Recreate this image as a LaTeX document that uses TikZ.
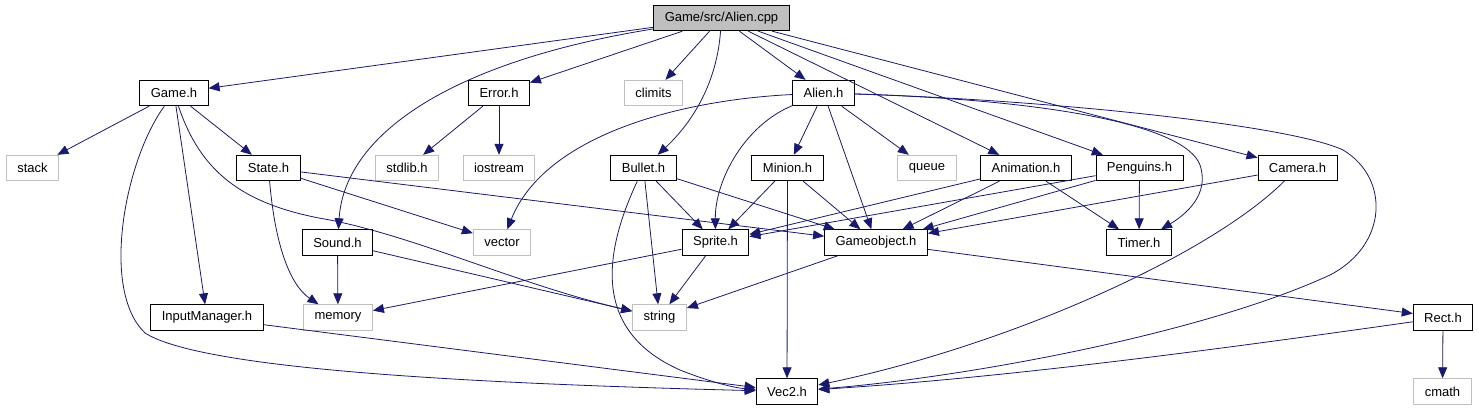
\documentclass[tikz,border=0pt]{standalone}
\usepackage{fontspec}
\setmainfont{Liberation Sans}
\usepackage{tikz}
\usetikzlibrary{arrows.meta}
\definecolor{Edge}{HTML}{191970}
\definecolor{LGray}{HTML}{BFBFBF}

\begin{document}
\begin{tikzpicture}[x=1pt, y=-1pt,
  hdr/.style={draw=black, line width=0.9pt, fill=white, minimum height=25.5pt,
    inner xsep=11pt, inner ysep=0pt, font=\fontsize{13}{15}\selectfont},
  sys/.style={hdr, draw=LGray},
  srcfile/.style={hdr, fill=LGray},
  inc/.style={-{Triangle[length=11pt, width=9pt]}, draw=Edge, line width=0.8pt}]
  \useasboundingbox (0,0) rectangle (1479,411);
  % Files
  \node[srcfile] (cpp) at (721.5,18) {Game/src/Alien.cpp};
  \node[hdr] (gameh) at (174,93) {Game.h};
  \node[hdr] (errorh) at (499,93) {Error.h};
  \node[sys] (climits) at (653.5,93) {climits};
  \node[hdr] (alienh) at (823.5,93) {Alien.h};
  \node[sys] (stack) at (32.5,168) {stack};
  \node[hdr] (stateh) at (268.5,168) {State.h};
  \node[sys] (stdlib) at (407,168) {stdlib.h};
  \node[sys] (iostream) at (499,168) {iostream};
  \node[hdr] (bulleth) at (643.5,168) {Bullet.h};
  \node[hdr] (minionh) at (787.5,168) {Minion.h};
  \node[sys] (queue) at (927,168) {queue};
  \node[hdr] (animh) at (1026,168) {Animation.h};
  \node[hdr] (penguinsh) at (1139.5,168) {Penguins.h};
  \node[hdr] (camerah) at (1297.5,168) {Camera.h};
  \node[hdr] (soundh) at (337.5,242.5) {Sound.h};
  \node[sys] (vector) at (502,242.5) {vector};
  \node[hdr] (spriteh) at (715.5,242.5) {Sprite.h};
  \node[hdr] (gameobjh) at (876,242.5) {Gameobject.h};
  \node[hdr] (timerh) at (1139,242.5) {Timer.h};
  \node[hdr] (inputh) at (207,317.5) {InputManager.h};
  \node[sys] (memory) at (338,317.5) {memory};
  \node[sys] (string) at (659.5,317.5) {string};
  \node[hdr] (recth) at (1443,317.5) {Rect.h};
  \node[hdr] (vech) at (787,391.5) {Vec2.h};
  \node[sys] (cmath) at (1442.5,391.5) {cmath};
  % Alien.cpp
  \draw[inc] (cpp) -- (gameh);
  \draw[inc] (cpp) .. controls (460,60) and (345,130) .. (soundh);
  \draw[inc] (cpp) -- (errorh);
  \draw[inc] (cpp) -- (climits);
  \draw[inc] (cpp) .. controls (717,80) and (695,120) .. (bulleth);
  \draw[inc] (cpp) -- (alienh);
  \draw[inc] (cpp) -- (animh);
  \draw[inc] (cpp) -- (penguinsh);
  \draw[inc] (cpp) -- (camerah);
  % Alien.h
  \draw[inc] (alienh) .. controls (680,100) and (545,135) .. (vector);
  \draw[inc] (alienh) .. controls (745,125) and (715,180) .. (spriteh);
  \draw[inc] (alienh) -- (minionh);
  \draw[inc] (alienh) -- (gameobjh);
  \draw[inc] (alienh) -- (queue);
  \draw[inc] (alienh) .. controls (1050,100) and (1185,125) .. (1200,165)
    .. controls (1210,195) and (1185,215) .. (timerh);
  \draw[inc] (alienh) .. controls (1050,100) and (1290,125) .. (1343,150)
    .. controls (1390,178) and (1388,245) .. (1330,275)
    .. controls (1200,335) and (960,378) .. (vech);
  % Game.h
  \draw[inc] (gameh) -- (stack);
  \draw[inc] (gameh) -- (stateh);
  \draw[inc] (gameh) -- (inputh);
  \draw[inc] (gameh) .. controls (125,160) and (100,290) .. (145,333)
    .. controls (200,368) and (450,383) .. (vech);
  \draw[inc] (gameh) .. controls (200,170) and (240,205) .. (330,220)
    .. controls (420,238) and (520,285) .. (string);
  % State.h
  \draw[inc] (stateh) .. controls (275,245) and (290,285) .. (memory);
  \draw[inc] (stateh) -- (vector);
  \draw[inc] (stateh) -- (gameobjh);
  % Error.h, Sound.h
  \draw[inc] (errorh) -- (stdlib);
  \draw[inc] (errorh) -- (iostream);
  \draw[inc] (soundh) -- (memory);
  \draw[inc] (soundh) -- (string);
  % Bullet.h
  \draw[inc] (bulleth) -- (spriteh);
  \draw[inc] (bulleth) -- (gameobjh);
  \draw[inc] (bulleth) -- (string);
  \draw[inc] (bulleth) .. controls (605,250) and (590,330) .. (680,370)
    .. controls (710,382) and (735,388) .. (vech);
  % Minion.h
  \draw[inc] (minionh) -- (spriteh);
  \draw[inc] (minionh) -- (gameobjh);
  \draw[inc] (minionh) -- (vech);
  % Animation.h, Penguins.h
  \draw[inc] (animh) -- (spriteh);
  \draw[inc] (animh) -- (gameobjh);
  \draw[inc] (animh) -- (timerh);
  \draw[inc] (penguinsh) -- (spriteh);
  \draw[inc] (penguinsh) -- (gameobjh);
  \draw[inc] (penguinsh) -- (timerh);
  % Camera.h
  \draw[inc] (camerah) -- (gameobjh);
  \draw[inc] (camerah) .. controls (1210,255) and (1010,345) .. (vech);
  % Sprite.h, Gameobject.h
  \draw[inc] (spriteh) -- (memory);
  \draw[inc] (spriteh) -- (string);
  \draw[inc] (gameobjh) -- (string);
  \draw[inc] (gameobjh) -- (recth);
  % Rect.h, InputManager.h
  \draw[inc] (recth) -- (cmath);
  \draw[inc] (recth) .. controls (1200,352) and (1000,378) .. (vech);
  \draw[inc] (inputh) -- (vech);
\end{tikzpicture}
\end{document}
